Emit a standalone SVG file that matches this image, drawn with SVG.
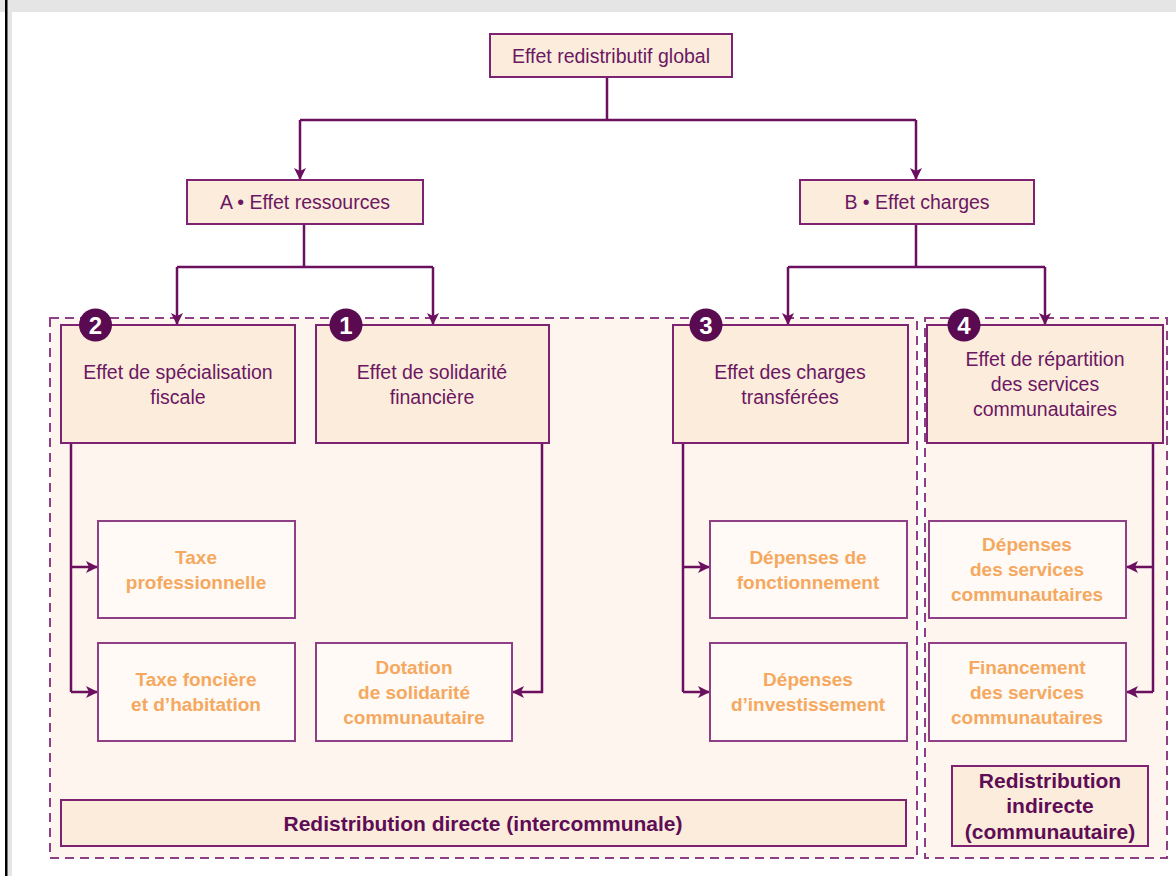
<svg xmlns="http://www.w3.org/2000/svg" width="1176" height="876" viewBox="0 0 1176 876">
<defs>
<style>
.frame{fill:#e5e5e5}
.zone{fill:#fdf5ee;stroke:#8e3f86;stroke-width:2;stroke-dasharray:9,6}
.main{fill:#fcecdc;stroke:#7d2372;stroke-width:2}
.sub{fill:#fffaf5;stroke:#8e3f86;stroke-width:2}
.t{font-family:"Liberation Sans",Arial,sans-serif;font-size:19.5px;fill:#6b1762;text-anchor:middle}
.o{font-family:"Liberation Sans",Arial,sans-serif;font-size:19px;font-weight:bold;fill:#f5a860;text-anchor:middle}
.b{font-family:"Liberation Sans",Arial,sans-serif;font-size:21px;font-weight:bold;fill:#5e0d55;text-anchor:middle}
.badge{fill:#5a0a50}
.num{font-family:"Liberation Sans",Arial,sans-serif;font-size:24px;font-weight:bold;fill:#ffffff;text-anchor:middle}
.c{fill:none;stroke:#6b0f5f;stroke-width:2.5}
</style>
<marker id="ah" viewBox="0 0 10 10" refX="10" refY="5" markerWidth="13" markerHeight="12" markerUnits="userSpaceOnUse" orient="auto">
<path d="M0,0 L10,5 L0,10 L2.5,5 Z" fill="#6b0f5f"/>
</marker>
</defs>
<rect x="0" y="0" width="1176" height="876" fill="#ffffff"/>
<rect class="frame" x="0" y="0" width="1176" height="12"/>
<rect class="frame" x="7" y="0" width="5" height="876"/>
<rect x="5" y="0" width="2.5" height="876" fill="#000000"/>

<g id="zones">
<rect class="zone" x="50" y="318" width="867" height="540"/>
<rect class="zone" x="925" y="318" width="242" height="540"/>
</g>

<g id="connectors">
<path class="c" d="M607,77 V120"/>
<path class="c" d="M300,120 H916"/>
<path class="c" d="M300,120 V180" marker-end="url(#ah)"/>
<path class="c" d="M916,120 V180" marker-end="url(#ah)"/>
<path class="c" d="M304,224 V267"/>
<path class="c" d="M177,267 H433"/>
<path class="c" d="M177,267 V325" marker-end="url(#ah)"/>
<path class="c" d="M433,267 V325" marker-end="url(#ah)"/>
<path class="c" d="M916,224 V267"/>
<path class="c" d="M788,267 H1045"/>
<path class="c" d="M788,267 V325" marker-end="url(#ah)"/>
<path class="c" d="M1045,267 V325" marker-end="url(#ah)"/>
<path class="c" d="M71,443 V692"/>
<path class="c" d="M71,567 H98" marker-end="url(#ah)"/>
<path class="c" d="M71,692 H98" marker-end="url(#ah)"/>
<path class="c" d="M542,443 V692 H512" marker-end="url(#ah)"/>
<path class="c" d="M683,443 V692"/>
<path class="c" d="M683,567 H710" marker-end="url(#ah)"/>
<path class="c" d="M683,692 H710" marker-end="url(#ah)"/>
<path class="c" d="M1153,443 V692"/>
<path class="c" d="M1153,567 H1126" marker-end="url(#ah)"/>
<path class="c" d="M1153,692 H1126" marker-end="url(#ah)"/>
</g>

<g id="global">
<rect class="main" x="490" y="34" width="242" height="43"/>
<text class="t" x="611" y="63">Effet redistributif global</text>
</g>
<g id="effetA">
<rect class="main" x="187" y="180" width="236" height="44"/>
<text class="t" x="305" y="209">A • Effet ressources</text>
</g>
<g id="effetB">
<rect class="main" x="800" y="180" width="234" height="44"/>
<text class="t" x="917" y="209">B • Effet charges</text>
</g>

<g id="n2">
<rect class="main" x="61" y="325" width="234" height="118"/>
<text class="t" x="178" y="379">Effet de spécialisation</text>
<text class="t" x="178" y="404">fiscale</text>
<circle class="badge" cx="95.5" cy="325" r="16.5"/>
<text class="num" x="95.5" y="333.5">2</text>
</g>
<g id="n1">
<rect class="main" x="316" y="325" width="233" height="118"/>
<text class="t" x="432" y="379">Effet de solidarité</text>
<text class="t" x="432" y="404">financière</text>
<circle class="badge" cx="346" cy="325" r="16.5"/>
<text class="num" x="346" y="333.5">1</text>
</g>
<g id="n3">
<rect class="main" x="673" y="325" width="235" height="118"/>
<text class="t" x="790" y="379">Effet des charges</text>
<text class="t" x="790" y="404">transférées</text>
<circle class="badge" cx="706" cy="325" r="16.5"/>
<text class="num" x="706" y="333.5">3</text>
</g>
<g id="n4">
<rect class="main" x="927" y="325" width="236" height="118"/>
<text class="t" x="1045" y="366">Effet de répartition</text>
<text class="t" x="1045" y="391">des services</text>
<text class="t" x="1045" y="416">communautaires</text>
<circle class="badge" cx="964" cy="325" r="16.5"/>
<text class="num" x="964" y="333.5">4</text>
</g>

<g id="taxePro">
<rect class="sub" x="98" y="521" width="197" height="97"/>
<text class="o" x="196" y="564">Taxe</text>
<text class="o" x="196" y="589">professionnelle</text>
</g>
<g id="taxeFonciere">
<rect class="sub" x="98" y="643" width="197" height="98"/>
<text class="o" x="196" y="686">Taxe foncière</text>
<text class="o" x="196" y="711">et d’habitation</text>
</g>
<g id="dotation">
<rect class="sub" x="316" y="643" width="196" height="98"/>
<text class="o" x="414" y="674">Dotation</text>
<text class="o" x="414" y="699">de solidarité</text>
<text class="o" x="414" y="724">communautaire</text>
</g>
<g id="depFonct">
<rect class="sub" x="710" y="521" width="197" height="97"/>
<text class="o" x="808" y="564">Dépenses de</text>
<text class="o" x="808" y="589">fonctionnement</text>
</g>
<g id="depInvest">
<rect class="sub" x="710" y="643" width="197" height="98"/>
<text class="o" x="808" y="686">Dépenses</text>
<text class="o" x="808" y="711">d’investissement</text>
</g>
<g id="depServices">
<rect class="sub" x="929" y="521" width="197" height="97"/>
<text class="o" x="1027" y="551">Dépenses</text>
<text class="o" x="1027" y="576">des services</text>
<text class="o" x="1027" y="601">communautaires</text>
</g>
<g id="financement">
<rect class="sub" x="929" y="643" width="197" height="98"/>
<text class="o" x="1027" y="674">Financement</text>
<text class="o" x="1027" y="699">des services</text>
<text class="o" x="1027" y="724">communautaires</text>
</g>

<g id="redistDirecte">
<rect class="main" x="61" y="800" width="845" height="46"/>
<text class="b" x="483" y="831">Redistribution directe (intercommunale)</text>
</g>
<g id="redistIndirecte">
<rect class="main" x="952" y="766" width="196" height="80"/>
<text class="b" x="1050" y="788">Redistribution</text>
<text class="b" x="1050" y="813">indirecte</text>
<text class="b" x="1050" y="839">(communautaire)</text>
</g>
</svg>
